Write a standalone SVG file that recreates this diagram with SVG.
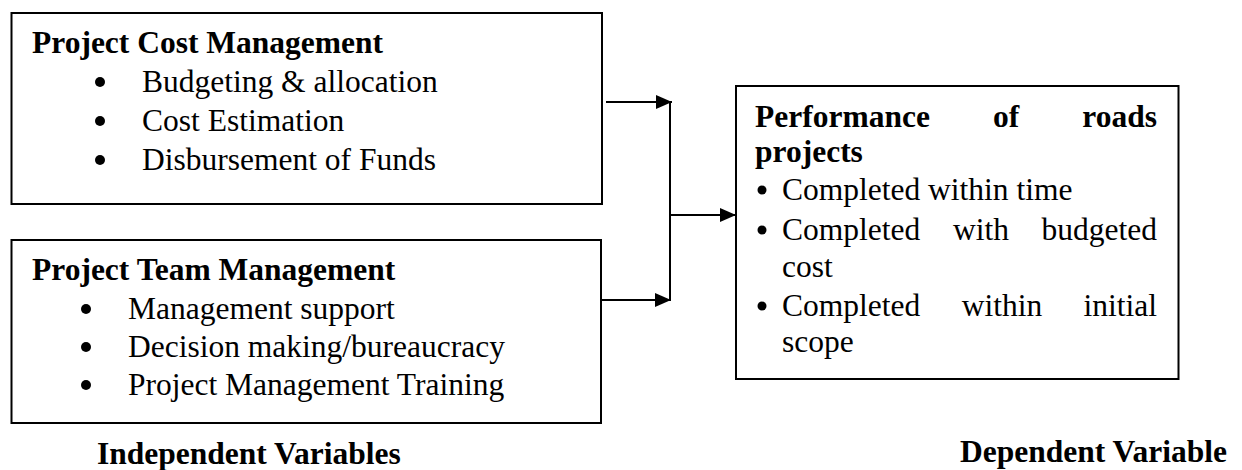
<svg xmlns="http://www.w3.org/2000/svg" width="1242" height="470" viewBox="0 0 1242 470">
  <style>
    .box { fill: #ffffff; stroke: #000000; stroke-width: 2; }
    .t { font-family: "Liberation Serif", "Times New Roman", serif; font-size: 31.5px; fill: #000000; }
    .b { font-weight: bold; }
    .wire { fill: none; stroke: #000000; stroke-width: 2; }
    .dot { fill: #000000; }
  </style>
  <defs>
    <marker id="arrow" viewBox="0 0 16 14" refX="16" refY="7" markerWidth="16" markerHeight="14" markerUnits="userSpaceOnUse" orient="auto">
      <path d="M0,0 L16,7 L0,14 Z" fill="#000000"/>
    </marker>
  </defs>

  <rect width="1242" height="470" fill="#ffffff"/>

  <!-- Independent variable: cost management -->
  <g id="cost-management">
    <rect class="box" x="11.5" y="13" width="590.5" height="191"/>
    <text class="t b" x="32" y="53">Project Cost Management</text>
    <circle class="dot" cx="100" cy="82" r="5"/>
    <text class="t" x="142" y="92">Budgeting &amp; allocation</text>
    <circle class="dot" cx="100" cy="121" r="5"/>
    <text class="t" x="142" y="131">Cost Estimation</text>
    <circle class="dot" cx="100" cy="160" r="5"/>
    <text class="t" x="142" y="170">Disbursement of Funds</text>
  </g>

  <!-- Independent variable: team management -->
  <g id="team-management">
    <rect class="box" x="11.5" y="240" width="589.5" height="183"/>
    <text class="t b" x="32" y="280">Project Team Management</text>
    <circle class="dot" cx="86" cy="309" r="5"/>
    <text class="t" x="128" y="319">Management support</text>
    <circle class="dot" cx="86" cy="347" r="5"/>
    <text class="t" x="128" y="357">Decision making/bureaucracy</text>
    <circle class="dot" cx="86" cy="385" r="5"/>
    <text class="t" x="128" y="395">Project Management Training</text>
  </g>

  <!-- Dependent variable: road project performance (justified lines) -->
  <g id="performance">
    <rect class="box" x="736" y="86" width="442.5" height="293"/>
    <text class="t b" x="755" y="127">Performance</text>
    <text class="t b" x="1006" y="127" text-anchor="middle">of</text>
    <text class="t b" x="1157" y="127" text-anchor="end">roads</text>
    <text class="t b" x="755" y="162">projects</text>
    <circle class="dot" cx="762" cy="190" r="4.5"/>
    <text class="t" x="782" y="200">Completed within time</text>
    <circle class="dot" cx="762" cy="230" r="4.5"/>
    <text class="t" x="782" y="240">Completed</text>
    <text class="t" x="981" y="240" text-anchor="middle">with</text>
    <text class="t" x="1157" y="240" text-anchor="end">budgeted</text>
    <text class="t" x="782" y="277">cost</text>
    <circle class="dot" cx="762" cy="306" r="4.5"/>
    <text class="t" x="782" y="316">Completed</text>
    <text class="t" x="1002" y="316" text-anchor="middle">within</text>
    <text class="t" x="1157" y="316" text-anchor="end">initial</text>
    <text class="t" x="782" y="352">scope</text>
  </g>

  <!-- Captions -->
  <g id="captions">
    <text class="t b" x="97" y="464">Independent Variables</text>
    <text class="t b" x="960" y="462">Dependent Variable</text>
  </g>

  <!-- Connectors -->
  <g id="connectors">
    <line class="wire" x1="606" y1="102" x2="672" y2="102" marker-end="url(#arrow)"/>
    <line class="wire" x1="601" y1="300" x2="671" y2="300" marker-end="url(#arrow)"/>
    <line class="wire" x1="670" y1="101" x2="670" y2="301"/>
    <line class="wire" x1="670" y1="215" x2="736" y2="215" marker-end="url(#arrow)"/>
  </g>
</svg>
